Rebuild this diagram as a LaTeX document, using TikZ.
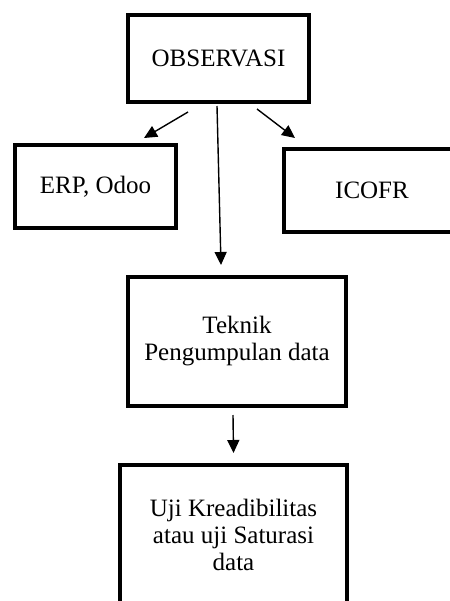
\documentclass[tikz,border=0pt]{standalone}
\usepackage{fontspec}
\setmainfont{Liberation Serif}
\usetikzlibrary{arrows.meta}
\begin{document}
\begin{tikzpicture}[x=1pt,y=-1pt,
  box/.style={draw, line width=4pt, align=center, inner sep=0pt,
    font=\fontsize{25}{27}\selectfont},
  arr/.style={line width=1.4pt, -{Triangle[length=13pt,width=12pt]}}]
\useasboundingbox[fill=white] (0,0) rectangle (449,601);
\node[box, minimum width=181pt, minimum height=87pt] (obs) at (218.5,58.5) {OBSERVASI};
\node[box, minimum width=161pt, minimum height=83pt] (erp) at (95.5,186.5) {ERP, Odoo};
\node[box, minimum width=220pt, minimum height=83pt] (icofr) at (394,190.5) {ICOFR\hspace*{44pt}};
\node[box, minimum width=218pt, minimum height=129pt] (tek) at (237,341.5) {Teknik\\Pengumpulan data};
\node[box, minimum width=227pt, minimum height=140pt] (uji) at (233.5,535) {Uji Kreadibilitas\\atau uji Saturasi\\data};
\draw[arr] ([shift={(-30.5,8)}]obs.south) -- ([shift={(-34,-5)}]erp.north east);
\draw[arr] ([shift={(38.5,5)}]obs.south) -- ([shift={(13,-9)}]icofr.north west);
\draw[arr] ([shift={(-1.5,2)}]obs.south) -- ([shift={(-16,-10)}]tek.north);
\draw[arr] ([shift={(-4,7)}]tek.south) -- ([shift={(0,-10)}]uji.north);
\end{tikzpicture}
\end{document}
